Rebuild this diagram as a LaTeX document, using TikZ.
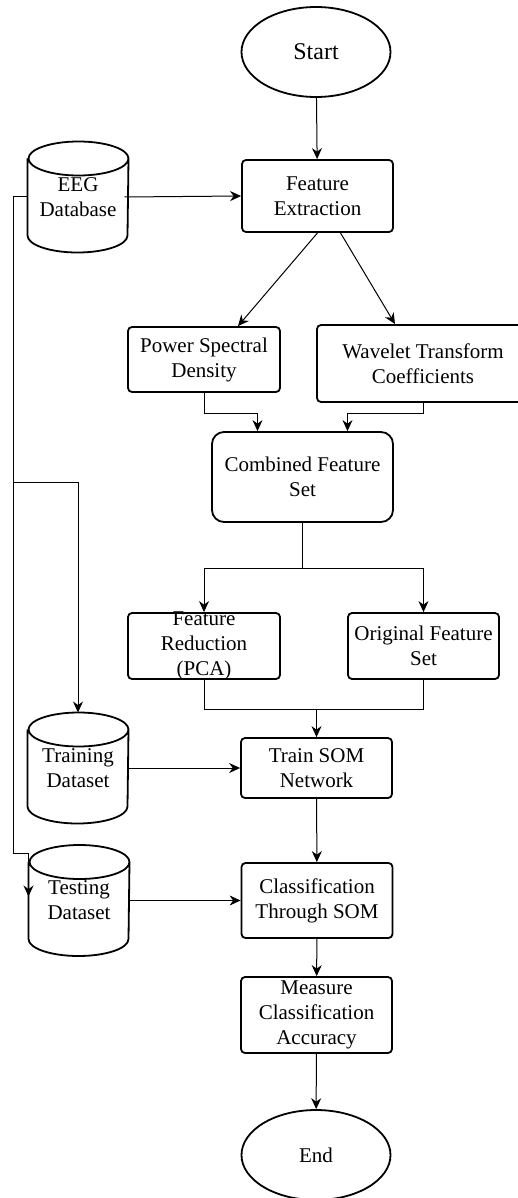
\documentclass[tikz,border=0pt]{standalone}
\usepackage{fontspec}
\setmainfont{Liberation Serif}
\usetikzlibrary{shapes.geometric,arrows.meta}

% three lines that are allowed to spill over their box
\newcommand\squeeze[1]{\smash{\raisebox{-5pt}{\begin{tabular}{@{}c@{}}#1\end{tabular}}}}
% drum outline round a named store node
\newcommand\dbdrum[1]{%
  \draw[line width=1.8pt] ([yshift=-17pt]#1.north west)
    -- ([yshift=17pt]#1.south west) arc[start angle=180, end angle=360, x radius=50pt, y radius=17pt]
    -- ([yshift=-17pt]#1.north east) arc[start angle=0, end angle=360, x radius=50pt, y radius=17pt];}

\begin{document}
\begin{tikzpicture}[x=1pt, y=-1pt, line width=1pt,
  flow/.style={-{Stealth[length=11pt,width=10pt]}},
  every node/.style={font=\fontsize{21}{25}\selectfont, align=center, inner sep=2pt},
  procbox/.style={draw, line width=1.8pt, rounded corners=4pt, minimum width=151pt},
  terminal/.style={draw, ellipse, line width=1.8pt, minimum width=149pt, minimum height=90pt},
  store/.style={minimum width=100pt, minimum height=110pt}]

  \useasboundingbox (0,0) rectangle (518,1198);

  % main column
  \node[terminal, font=\fontsize{24}{28}\selectfont] (start) at (316,52) {Start};
  \node[procbox, minimum height=72pt] (fe) at (317.5,196) {Feature\\Extraction};
  \node[store] (eeg) at (78,197) {EEG\\Database};

  \node[procbox, minimum width=152pt, minimum height=65pt] (psd) at (204,359.5) {Power Spectral\\Density};
  \node[procbox, minimum width=212pt, minimum height=77pt] (wtc) at (423,363.5) {Wavelet Transform\\Coefficients};
  \node[procbox, rounded corners=12pt, minimum width=181pt, minimum height=90pt] (cfs) at (302.5,477) {Combined Feature\\Set};

  \node[procbox, minimum width=152pt, minimum height=66pt] (fr) at (204,646) {\squeeze{Feature\\Reduction\\(PCA)}};
  \node[procbox, minimum height=66pt] (ofs) at (423.5,646) {Original Feature\\Set};

  \node[store] (train) at (78,768) {Training\\Dataset};
  \node[procbox, minimum height=60pt] (tsom) at (316.5,768) {Train SOM\\Network};
  \node[store] (test) at (79,900.5) {Testing\\Dataset};
  \node[procbox, minimum height=75pt] (cls) at (317,900.5) {Classification\\Through SOM};
  \node[procbox, minimum height=76pt] (mca) at (316.5,1015) {Measure\\Classification\\Accuracy};
  \node[terminal] (end) at (316,1155) {End};

  \dbdrum{eeg}
  \dbdrum{train}
  \dbdrum{test}

  % connectors
  \draw[flow] (start) -- (fe);
  \draw[flow] ([xshift=-4pt]eeg.east) -- (fe.west);
  \draw[flow] (fe.south) -- ([xshift=34pt]psd.north);
  \draw[flow] ([xshift=23pt]fe.south) -- ([xshift=-28pt]wtc.north);
  \draw[flow] (psd.south) -- ++(0,21) -| ([xshift=-45pt]cfs.north);
  \draw[flow] (wtc.south) -- ++(0,11) -| ([xshift=45pt]cfs.north);

  \draw (cfs.south) -- ++(0,46) coordinate (fork);
  \draw[flow] (fork) -| (fr.north);
  \draw[flow] (fork) -| (ofs.north);
  \draw (fr.south) -- ++(0,30) coordinate (merge) -| (ofs.south);
  \draw[flow] (merge -| tsom.north) -- (tsom.north);

  \draw[flow] (train.east) -- (tsom.west);
  \draw[flow] (tsom) -- (cls);
  \draw[flow] (test.east) -- (cls.west);
  \draw[flow] (cls) -- (mca);
  \draw[flow] (mca) -- (end);

  % database feeds the two datasets
  \draw[flow] (eeg.west) -- ++(-14,0) coordinate (bus) -- ++(0,285) coordinate (tap) -| (train.north);
  \draw[flow] (tap) -- ++(0,371) -| ([yshift=4pt]test.west);

\end{tikzpicture}
\end{document}
